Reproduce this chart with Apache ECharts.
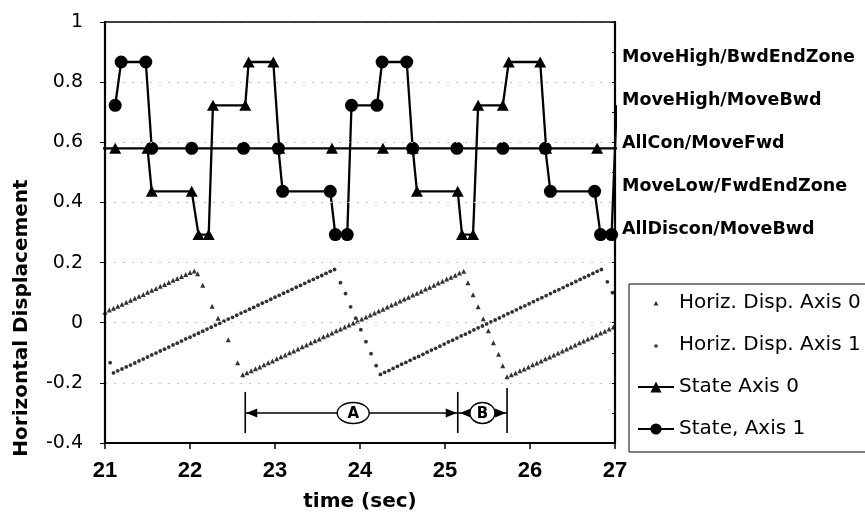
<!DOCTYPE html>
<html><head><meta charset="utf-8">
<script src="https://cdn.jsdelivr.net/npm/echarts@6/dist/echarts.min.js"></script>
<style>html,body{margin:0;padding:0;background:#fff}#c{width:865px;height:518px}</style>
</head><body><div id="c"></div>
<script>
// ---- data ----
const xRange = [21, 27];
const yRange = [-0.4, 1];

const dispAxis0 = [
[21.00,0.035],[21.05,0.042],[21.10,0.048],[21.15,0.055],[21.20,0.061],[21.25,0.068],[21.30,0.075],[21.35,0.081],[21.40,0.088],[21.45,0.094],[21.50,0.101],[21.55,0.108],[21.60,0.114],[21.65,0.121],[21.70,0.127],[21.75,0.134],[21.80,0.141],[21.85,0.147],[21.90,0.154],[21.95,0.160],[22.00,0.167],[22.05,0.172],
[22.09,0.163],[22.15,0.125],[22.26,0.055],[22.33,0.015],[22.45,-0.057],[22.56,-0.133],
[22.62,-0.173],[22.67,-0.166],[22.72,-0.160],[22.77,-0.153],[22.82,-0.147],[22.87,-0.140],[22.92,-0.133],[22.97,-0.127],[23.02,-0.120],[23.07,-0.113],[23.12,-0.107],[23.17,-0.100],[23.22,-0.094],[23.27,-0.087],[23.32,-0.080],[23.37,-0.074],[23.42,-0.067],[23.47,-0.060],[23.52,-0.054],[23.57,-0.047],[23.62,-0.041],[23.67,-0.034],[23.72,-0.027],[23.77,-0.021],[23.82,-0.014],[23.87,-0.008],[23.92,-0.001],[23.97,0.006],[24.02,0.012],[24.07,0.019],[24.12,0.026],[24.17,0.032],[24.22,0.039],[24.27,0.045],[24.32,0.052],[24.37,0.059],[24.42,0.065],[24.47,0.072],[24.52,0.079],[24.57,0.085],[24.62,0.092],[24.67,0.098],[24.72,0.105],[24.77,0.112],[24.82,0.118],[24.87,0.125],[24.92,0.132],[24.97,0.138],[25.02,0.145],[25.07,0.151],[25.12,0.158],[25.17,0.165],[25.22,0.171],
[25.27,0.133],[25.33,0.093],[25.39,0.053],[25.45,0.013],[25.51,-0.027],[25.57,-0.067],[25.63,-0.105],[25.68,-0.143],
[25.73,-0.180],[25.78,-0.173],[25.83,-0.167],[25.88,-0.160],[25.93,-0.154],[25.98,-0.147],[26.03,-0.140],[26.08,-0.134],[26.13,-0.127],[26.18,-0.120],[26.23,-0.114],[26.28,-0.107],[26.33,-0.101],[26.38,-0.094],[26.43,-0.087],[26.48,-0.081],[26.53,-0.074],[26.58,-0.067],[26.63,-0.061],[26.68,-0.054],[26.73,-0.048],[26.78,-0.041],[26.83,-0.034],[26.88,-0.028],[26.93,-0.021],[26.98,-0.014]
];

const dispAxis1 = [
[21.06,-0.133],
[21.10,-0.167],[21.15,-0.160],[21.20,-0.154],[21.25,-0.147],[21.30,-0.141],[21.35,-0.134],[21.40,-0.127],[21.45,-0.121],[21.50,-0.114],[21.55,-0.107],[21.60,-0.101],[21.65,-0.094],[21.70,-0.088],[21.75,-0.081],[21.80,-0.074],[21.85,-0.068],[21.90,-0.061],[21.95,-0.054],[22.00,-0.048],[22.05,-0.041],[22.10,-0.035],[22.15,-0.028],[22.20,-0.021],[22.25,-0.015],[22.30,-0.008],[22.35,-0.002],[22.40,0.005],[22.45,0.012],[22.50,0.018],[22.55,0.025],[22.60,0.032],[22.65,0.038],[22.70,0.045],[22.75,0.051],[22.80,0.058],[22.85,0.065],[22.90,0.071],[22.95,0.078],[23.00,0.085],[23.05,0.091],[23.10,0.098],[23.15,0.104],[23.20,0.111],[23.25,0.118],[23.30,0.124],[23.35,0.131],[23.40,0.138],[23.45,0.144],[23.50,0.151],[23.55,0.157],[23.60,0.164],[23.65,0.171],[23.70,0.177],
[23.77,0.133],[23.83,0.097],[23.89,0.053],[23.95,0.015],[24.01,-0.023],[24.07,-0.063],[24.13,-0.103],[24.19,-0.143],
[24.24,-0.172],[24.29,-0.165],[24.34,-0.159],[24.39,-0.152],[24.44,-0.145],[24.49,-0.138],[24.54,-0.132],[24.59,-0.125],[24.64,-0.118],[24.69,-0.112],[24.74,-0.105],[24.79,-0.098],[24.84,-0.091],[24.89,-0.085],[24.94,-0.078],[24.99,-0.071],[25.04,-0.064],[25.09,-0.058],[25.14,-0.051],[25.19,-0.044],[25.24,-0.038],[25.29,-0.031],[25.34,-0.024],[25.39,-0.017],[25.44,-0.011],[25.49,-0.004],[25.54,0.003],[25.59,0.009],[25.64,0.016],[25.69,0.023],[25.74,0.030],[25.79,0.036],[25.84,0.043],[25.89,0.050],[25.94,0.056],[25.99,0.063],[26.04,0.070],[26.09,0.077],[26.14,0.083],[26.19,0.090],[26.24,0.097],[26.29,0.104],[26.34,0.110],[26.39,0.117],[26.44,0.124],[26.49,0.130],[26.54,0.137],[26.59,0.144],[26.64,0.151],[26.69,0.157],[26.74,0.164],[26.79,0.171],[26.84,0.177],
[26.91,0.136],[26.97,0.100]
];

const stateAxis0 = [
[20.80,0.58],[21.12,0.58],[21.50,0.58],[21.55,0.437],[22.02,0.437],[22.10,0.293],[22.22,0.293],[22.27,0.723],[22.65,0.723],[22.69,0.867],[22.98,0.867],[23.05,0.58],[23.67,0.58],[24.27,0.58],[24.62,0.58],[24.67,0.437],[25.15,0.437],[25.20,0.293],[25.33,0.293],[25.39,0.723],[25.68,0.723],[25.75,0.867],[26.12,0.867],[26.19,0.58],[26.79,0.58],[27.35,0.58]
];

const stateAxis1 = [
[21.12,0.723],[21.19,0.867],[21.48,0.867],[21.55,0.58],[22.02,0.58],[22.63,0.58],[23.04,0.58],[23.09,0.437],[23.65,0.437],[23.71,0.293],[23.85,0.293],[23.90,0.723],[24.20,0.723],[24.26,0.867],[24.55,0.867],[24.62,0.58],[25.14,0.58],[25.68,0.58],[26.18,0.58],[26.24,0.437],[26.76,0.437],[26.83,0.293],[26.96,0.293],[27.02,0.723]
];

const stateLevels = [0.867, 0.723, 0.58, 0.437, 0.293];
const stateNames = ['MoveHigh/BwdEndZone', 'MoveHigh/MoveBwd', 'AllCon/MoveFwd', 'MoveLow/FwdEndZone', 'AllDiscon/MoveBwd'];

const seriesNames = ['Horiz. Disp. Axis 0', 'Horiz. Disp. Axis 1', 'State Axis 0', 'State, Axis 1'];

// annotation (time markers for intervals A and B)
const annotMarks = [22.65, 25.15, 25.73];
const annotLabels = [['A', 23.92], ['B', 25.44]];
const annotArrowY = -0.30;

// ---- chart ----
const chart = echarts.init(document.getElementById('c'), null, {renderer: 'canvas'});
const black = '#000';

chart.setOption({
  animation: false,
  backgroundColor: '#fff',
  grid: {left: 105, right: 250, top: 22, bottom: 75, show: false},
  xAxis: [{
    type: 'value', min: xRange[0], max: xRange[1], interval: 1,
    name: 'time (sec)', nameLocation: 'middle', nameGap: 49,
    nameTextStyle: {fontFamily: 'DejaVu Sans', fontWeight: 'bold', fontSize: 20, color: black},
    axisLine: {show: true, onZero: false, lineStyle: {color: black, width: 2.2}},
    axisTick: {show: true, inside: false, length: 6, lineStyle: {color: black, width: 1.5}},
    axisLabel: {margin: 17, fontFamily: 'Liberation Sans', fontWeight: 'bold', fontSize: 22, color: black},
    splitLine: {show: false}, z: 5
  }, {
    type: 'value', position: 'top', min: xRange[0], max: xRange[1], interval: 1,
    axisLine: {show: true, onZero: false, lineStyle: {color: black, width: 1.6}},
    axisTick: {show: false}, axisLabel: {show: false}, splitLine: {show: false}, z: 5
  }],
  yAxis: [{
    type: 'value', min: yRange[0], max: yRange[1], interval: 0.2,
    axisLine: {show: true, onZero: false, lineStyle: {color: black, width: 2.2}},
    axisTick: {show: true, inside: false, length: 5, lineStyle: {color: black, width: 1}},
    axisLabel: {margin: 22, fontFamily: 'DejaVu Sans', fontSize: 19, color: black,
      formatter: v => (Math.round(v * 10) / 10).toString()},
    splitLine: {show: true, lineStyle: {color: '#c8c8c8', width: 1, type: [2, 7]}}, z: 5
  }, {
    type: 'value', position: 'right', min: yRange[0], max: yRange[1], interval: 0.1,
    axisLine: {show: true, onZero: false, lineStyle: {color: black, width: 2.2}},
    axisTick: {show: true, inside: true, length: 3, lineStyle: {color: black, width: 1}},
    axisLabel: {show: false}, splitLine: {show: false}, z: 5
  }],
  legend: {
    orient: 'vertical', left: 629, top: 284,
    padding: [9, 60, 13, 8], itemGap: 22, itemWidth: 36, itemHeight: 14,
    borderColor: black, borderWidth: 1, backgroundColor: '#fff',
    textStyle: {fontFamily: 'DejaVu Sans', fontSize: 20, color: black},
    data: [
      {name: seriesNames[0], icon: 'path://M0,0M36,14M15.5,9.5L20.5,9.5L18,5Z'},
      {name: seriesNames[1], icon: 'path://M0,0M36,14M16.2,8a1.8,1.8 0 1,0 3.6,0a1.8,1.8 0 1,0 -3.6,0Z'},
      {name: seriesNames[2]},
      {name: seriesNames[3]}
    ]
  },
  series: [
    {name: seriesNames[0], type: 'scatter', data: dispAxis0, symbol: 'triangle', symbolSize: 5,
      itemStyle: {color: black}, clip: true, z: 2},
    {name: seriesNames[1], type: 'scatter', data: dispAxis1, symbol: 'circle', symbolSize: 3.8,
      itemStyle: {color: black}, clip: true, z: 2},
    {name: seriesNames[2], type: 'line', data: stateAxis0, symbol: 'triangle', symbolSize: [12, 11],
      showSymbol: true, showAllSymbol: true, clip: true,
      lineStyle: {color: black, width: 2.3}, itemStyle: {color: black}, z: 3},
    {name: seriesNames[3], type: 'line', data: stateAxis1, symbol: 'circle', symbolSize: 13,
      showSymbol: true, showAllSymbol: true, clip: true,
      lineStyle: {color: black, width: 2.3}, itemStyle: {color: black}, z: 4}
  ]
});

// ---- annotations and side texts placed through the axes ----
function px(t, v) { return chart.convertToPixel({xAxisIndex: 0, yAxisIndex: 0}, [t, v]); }
const g = [];
const yArrow = px(xRange[0], annotArrowY)[1];
const yTop = px(xRange[0], -0.23)[1];
const yBot = px(xRange[0], -0.367)[1];
const xm = annotMarks.map(t => px(t, 0)[0]);
xm.forEach((x, i) => {
  g.push({type: 'line', shape: {x1: x, y1: i === 2 ? yTop - 4 : yTop, x2: x, y2: yBot}, style: {stroke: black, lineWidth: 1.6}, z: 10});
});
function head(tip, y, dir) {
  return {type: 'polygon', shape: {points: [[tip, y], [tip - dir * 11, y - 4.5], [tip - dir * 11, y + 4.5]]}, style: {fill: black}, z: 11};
}
g.push({type: 'line', shape: {x1: xm[0], y1: yArrow, x2: xm[1], y2: yArrow}, style: {stroke: black, lineWidth: 1.4}, z: 10});
g.push({type: 'line', shape: {x1: xm[1], y1: yArrow, x2: xm[2], y2: yArrow}, style: {stroke: black, lineWidth: 1.4}, z: 10});
g.push(head(xm[0] + 1, yArrow, -1));
g.push(head(xm[1] - 1, yArrow, 1));
g.push(head(xm[1] + 2, yArrow, -1));
g.push(head(xm[2] - 1, yArrow, 1));
annotLabels.forEach(([txt, t], i) => {
  const cx = px(t, 0)[0];
  g.push({type: 'ellipse', shape: {cx: cx, cy: yArrow, rx: i === 0 ? 16 : 12.5, ry: 10.5}, style: {fill: '#fff', stroke: black, lineWidth: 1.4}, z: 12});
  g.push({type: 'text', x: cx, y: yArrow + 1, style: {text: txt, fill: black, font: 'bold 15px "DejaVu Sans"', align: 'center', verticalAlign: 'middle'}, z: 13});
});
const xRight = px(xRange[1], 0)[0];
stateLevels.forEach((lv, i) => {
  const y = px(xRange[1], lv)[1];
  g.push({type: 'text', x: xRight + 7, y: y - 5, style: {text: stateNames[i], fill: black, font: 'bold 17.5px "DejaVu Sans"', align: 'left', verticalAlign: 'middle'}, z: 10});
});
g.push({type: 'text', x: 22, y: 318, rotation: Math.PI / 2,
  style: {text: 'Horizontal Displacement', fill: black, font: 'bold 20px "DejaVu Sans"', align: 'center', verticalAlign: 'middle'}, z: 10});
chart.setOption({graphic: g});
</script>
</body></html>
